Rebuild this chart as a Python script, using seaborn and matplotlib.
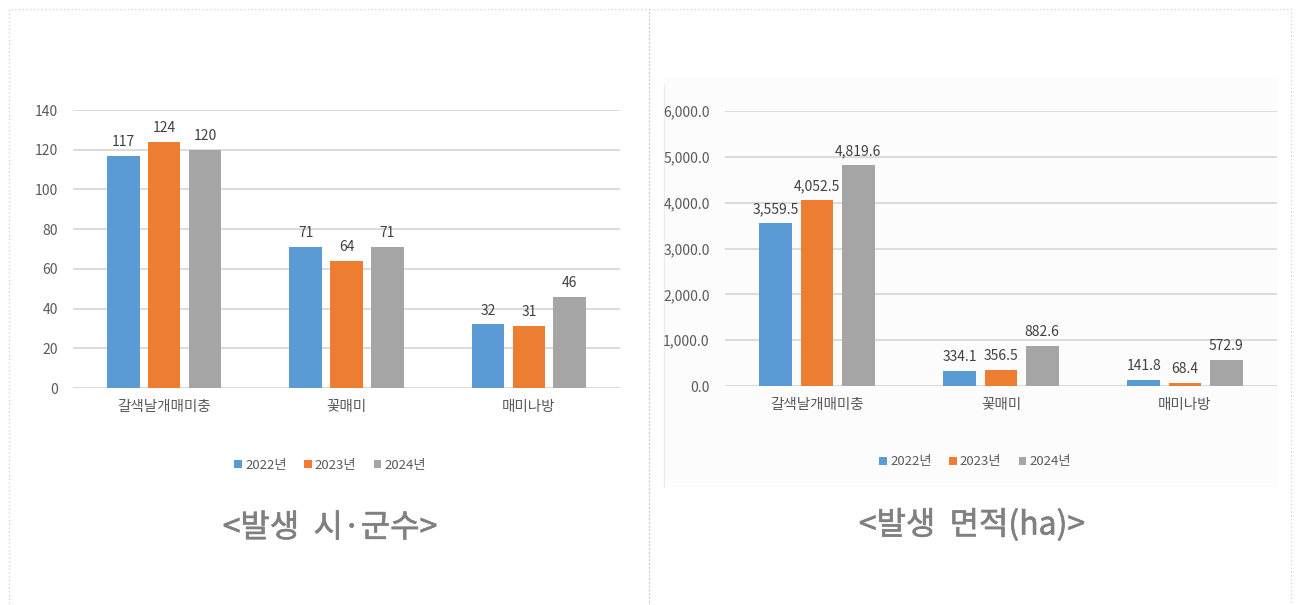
import matplotlib
matplotlib.use("Agg")
import matplotlib.pyplot as plt
from matplotlib.patches import Rectangle, Patch
import matplotlib.patheffects as pe
import seaborn as sns
import pandas as pd

# ---- data ----
categories = ["갈색날개매미충", "꽃매미", "매미나방"]
years = ["2022년", "2023년", "2024년"]
counts_2022 = [117, 71, 32]
counts_2023 = [124, 64, 31]
counts_2024 = [120, 71, 46]
area_2022 = [3559.5, 334.1, 141.8]
area_2023 = [4052.5, 356.5, 68.4]
area_2024 = [4819.6, 882.6, 572.9]
left_ticks = [0, 20, 40, 60, 80, 100, 120, 140]
right_ticks = [0, 1000, 2000, 3000, 4000, 5000, 6000]
caption_left = "<발생  시·군수>"
caption_right = "<발생  면적(ha)>"
colors = ["#5B9BD5", "#ED7D31", "#A5A5A5"]

def long_df(series):
    rows = []
    for y, vals in zip(years, series):
        for c, v in zip(categories, vals):
            rows.append({"category": c, "year": y, "value": v})
    return pd.DataFrame(rows)

df_count = long_df([counts_2022, counts_2023, counts_2024])
df_area = long_df([area_2022, area_2023, area_2024])

sns.set_theme(style="white")
plt.rcParams["font.family"] = ["Noto Sans CJK KR", "DejaVu Sans"]

W, H = 1298, 605
fig = plt.figure(figsize=(W / 100, H / 100), dpi=100)
fig.patch.set_facecolor("white")

def fx(x): return x / W
def fy(y): return 1 - y / H

# dotted panel borders
for (x0, x1) in [(9, 649), (649, 1291)]:
    fig.add_artist(Rectangle((fx(x0), fy(640)), fx(x1) - fx(x0), fy(9) - fy(640),
                             transform=fig.transFigure, fill=False,
                             edgecolor="#cfcfcf", linestyle=(0, (1, 2)), linewidth=0.9))

# light background of right chart image
fig.add_artist(Rectangle((fx(664), fy(487)), fx(1278) - fx(664), fy(78) - fy(487),
                         transform=fig.transFigure, facecolor="#fcfcfc",
                         edgecolor="none", zorder=0))
fig.add_artist(plt.Line2D([fx(664), fx(664)], [fy(487), fy(85)], transform=fig.transFigure,
                          color="#ececec", linewidth=1, zorder=0))

ax1 = fig.add_axes([fx(73), fy(388), fx(620) - fx(73), fy(110) - fy(388)])
ax2 = fig.add_axes([fx(725), fy(386), fx(1277) - fx(725), fy(111) - fy(386)])

def style(ax, df, ticks, ymax, fmt):
    sns.barplot(data=df, x="category", y="value", hue="year", palette=colors,
                width=0.67, gap=0.2, ax=ax, legend=False, linewidth=0, saturation=1)
    ax.set_facecolor("none")
    ax.set_ylim(0, ymax)
    ax.set_yticks(ticks)
    ax.set_yticklabels([fmt(t) for t in ticks])
    ax.grid(axis="y", color="#d9d9d9", linewidth=1.3)
    ax.set_axisbelow(True)
    for s in ["top", "right", "left", "bottom"]:
        ax.spines[s].set_visible(False)
    ax.axhline(0, color="#d9d9d9", linewidth=1.3, zorder=0.5)
    ax.tick_params(axis="y", length=0, pad=11, labelsize=10, labelcolor="#595959")
    ax.tick_params(axis="x", length=0, pad=9, labelsize=10.5, labelcolor="#595959")
    ax.set_xlabel("")
    ax.set_ylabel("")
    for cont in ax.containers:
        ax.bar_label(cont, labels=[fmt(b.get_height()) for b in cont], padding=5,
                     fontsize=10, color="#404040")

style(ax1, df_count, left_ticks, 140, lambda v: f"{v:.0f}")
style(ax2, df_area, right_ticks, 6000, lambda v: f"{v:,.1f}")

handles = [Patch(facecolor=c, edgecolor="none") for c in colors]
for cx, cy in [(330, 465), (975, 462)]:
    fig.legend(handles, years, loc="center", bbox_to_anchor=(fx(cx), fy(cy)), ncol=3,
               frameon=False, handlelength=0.6, handleheight=0.6, handletextpad=0.25,
               columnspacing=1.3, fontsize=9.5, labelcolor="#595959")

thick = [pe.withStroke(linewidth=0.45, foreground="#808080")]
fig.text(fx(330), fy(528), caption_left, ha="center", va="center", fontsize=23,
         color="#808080", path_effects=thick)
fig.text(fx(972), fy(525), caption_right, ha="center", va="center", fontsize=23,
         color="#808080", path_effects=thick)

fig.savefig("out.png", dpi=100, facecolor="white")
